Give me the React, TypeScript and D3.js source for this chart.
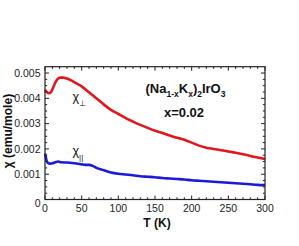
import React from "react";
import * as d3 from "d3";

const W = 299;
const H = 246;

const tPerp = [0, 2, 5, 8, 11, 14, 17, 21, 25, 30, 35, 40, 50, 60, 70, 80, 90, 100, 110, 120, 130, 140, 150, 160, 170, 180, 190, 200, 210, 220, 230, 240, 250, 260, 270, 280, 290, 300];
const chiPerp = [0.00434, 0.00426, 0.0042, 0.00424, 0.00442, 0.00462, 0.00476, 0.00482, 0.00482, 0.00478, 0.00472, 0.00464, 0.00447, 0.00424, 0.004, 0.00376, 0.00354, 0.00338, 0.00322, 0.00308, 0.00295, 0.00283, 0.00272, 0.00263, 0.00253, 0.00244, 0.00236, 0.00225, 0.00213, 0.00205, 0.002, 0.00195, 0.0019, 0.00185, 0.00179, 0.00172, 0.00166, 0.0016];

const tPar = [0, 1, 2, 4, 7, 10, 14, 18, 22, 30, 40, 50, 55, 60, 65, 70, 80, 90, 100, 110, 120, 130, 140, 150, 160, 170, 180, 190, 200, 210, 220, 230, 240, 250, 260, 270, 280, 290, 300];
const chiPar = [0.00182, 0.0017, 0.00155, 0.00145, 0.00142, 0.00143, 0.00147, 0.0015, 0.00147, 0.00146, 0.00143, 0.00139, 0.00137, 0.00137, 0.00133, 0.00125, 0.00116, 0.00107, 0.00102, 0.00099, 0.00096, 0.00092, 0.0009, 0.00088, 0.00085, 0.00083, 0.00081, 0.00079, 0.00076, 0.00074, 0.00072, 0.0007, 0.00068, 0.00066, 0.00064, 0.00062, 0.0006, 0.00058, 0.00057];

const xTickLabels = ["0", "50", "100", "150", "200", "250", "300"];
const xTickValues = [0, 50, 100, 150, 200, 250, 300];
const yTickLabels = ["0", "0.001", "0.002", "0.003", "0.004", "0.005"];
const yTickValues = [0, 0.001, 0.002, 0.003, 0.004, 0.005];

const FONT = "'Liberation Sans', Arial, Helvetica, sans-serif";

export default function App() {
  const left = 45, right = 265, top = 66.7, bottom = 199.5;
  const x = d3.scaleLinear().domain([0, 300]).range([left, right]);
  const y = d3.scaleLinear().domain([0, 0.00525]).range([bottom, top]);

  const line = d3
    .line<[number, number]>()
    .x((d) => x(d[0]))
    .y((d) => y(d[1]))
    .curve(d3.curveMonotoneX);

  const perpPath = line(tPerp.map((t, i) => [t, chiPerp[i]] as [number, number])) || "";
  const parPath = line(tPar.map((t, i) => [t, chiPar[i]] as [number, number])) || "";

  const xMinor = d3.range(0, 301, 10);
  const yMinor = d3.range(0, 21).map((i) => i * 0.00025);

  return (
    <svg width={W} height={H} style={{ position: "absolute", left: 0, top: 0, background: "#fff" }} fontFamily={FONT}>
      <rect x={0} y={0} width={W} height={H} fill="#fff" />
      {/* data */}
      <path d={perpPath} fill="none" stroke="#e3161b" strokeWidth={2.6} strokeLinejoin="round" />
      <path d={parPath} fill="none" stroke="#1c1ad6" strokeWidth={2.6} strokeLinejoin="round" />

      {/* frame */}
      <rect x={left} y={top} width={right - left} height={bottom - top} fill="none" stroke="#222" strokeWidth={1.2} />

      {/* x ticks */}
      {xMinor.map((v) => {
        const major = v % 50 === 0;
        const len = major ? 4 : 2.2;
        return (
          <g key={"xt" + v} stroke="#222" strokeWidth={1}>
            <line x1={x(v)} x2={x(v)} y1={bottom} y2={bottom - len} />
            <line x1={x(v)} x2={x(v)} y1={top} y2={top + len} />
          </g>
        );
      })}
      {/* y ticks */}
      {yMinor.map((v, i) => {
        const major = i % 4 === 0;
        const len = major ? 4 : 2.2;
        return (
          <g key={"yt" + i} stroke="#222" strokeWidth={1}>
            <line x1={left} x2={left + len} y1={y(v)} y2={y(v)} />
            <line x1={right} x2={right - len} y1={y(v)} y2={y(v)} />
          </g>
        );
      })}

      {/* x tick labels */}
      {xTickValues.map((v, i) => (
        <text key={"xl" + v} x={x(v)} y={212} fontSize={10.5} textAnchor="middle" fill="#222">
          {xTickLabels[i]}
        </text>
      ))}
      {/* y tick labels */}
      {yTickValues.map((v, i) => (
        <text key={"yl" + i} x={40.5} y={y(v) + (v === 0 ? 7.5 : 3.8)} fontSize={10.5} textAnchor="end" fill="#222">
          {yTickLabels[i]}
        </text>
      ))}

      {/* axis titles */}
      <text x={157} y={227} fontSize={12} fontWeight="bold" textAnchor="middle" fill="#111">
        T (K)
      </text>
      <text transform="translate(12,131) rotate(-90)" fontSize={12} fontWeight="bold" textAnchor="middle" fill="#111">
        χ (emu/mole)
      </text>

      {/* annotations */}
      <text x={145.5} y={93} fontSize={13} fontWeight="bold" fill="#111">
        (Na
        <tspan fontSize={8.5} dy={4}>1-x</tspan>
        <tspan dy={-4}>K</tspan>
        <tspan fontSize={8.5} dy={4}>x</tspan>
        <tspan dy={-4}>)</tspan>
        <tspan fontSize={8.5} dy={4}>2</tspan>
        <tspan dy={-4}>IrO</tspan>
        <tspan fontSize={8.5} dy={4}>3</tspan>
      </text>
      <text x={184} y={117} fontSize={13} fontWeight="bold" textAnchor="middle" fill="#111">
        x=0.02
      </text>

      <text x={72.5} y={101} fontSize={12.5} fill="#111">
        χ
        <tspan fontSize={8} dy={5}>⊥</tspan>
      </text>
      <text x={72.5} y={155} fontSize={12.5} fill="#111">
        χ
        <tspan fontSize={8} dy={5}>||</tspan>
      </text>
    </svg>
  );
}
